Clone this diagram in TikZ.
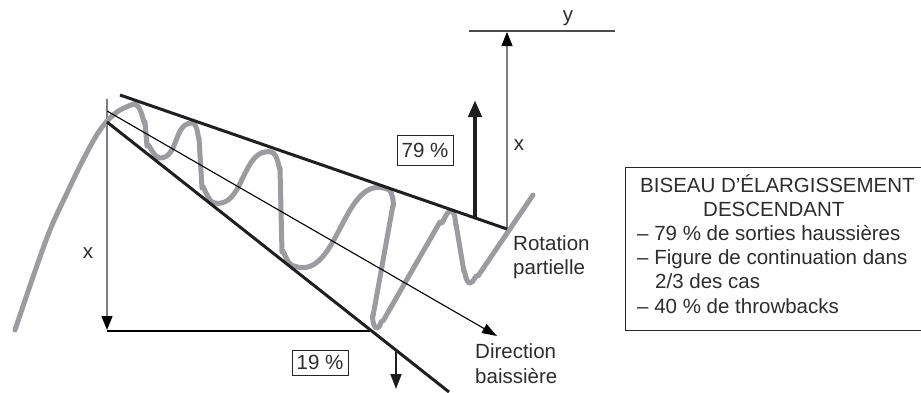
\documentclass[tikz,border=0pt]{standalone}
\usepackage{fontspec}
\setmainfont{Liberation Sans}
\usetikzlibrary{arrows.meta}
\definecolor{wavegray}{RGB}{155,155,160}
\definecolor{linegray}{RGB}{125,125,125}
\definecolor{txt}{RGB}{45,45,45}
\begin{document}
\begin{tikzpicture}[x=1pt,y=-1pt,
  font=\fontsize{20.5}{24}\selectfont,
  wave/.style={draw=wavegray, line width=5pt, line cap=round, line join=round},
  boldline/.style={draw=black!88, line width=3pt},
  thinline/.style={draw=black, line width=1.1pt},
  guide/.style={draw=linegray, line width=1.3pt},
  tipA/.style={-{Triangle[length=14pt,width=11pt,color=black]}},
  lbl/.style={text=txt, inner sep=0pt},
  pbox/.style={draw=black!85, line width=1pt, text=txt, inner sep=0pt, minimum width=56pt}]
\clip (0,0) rectangle (921,392);
\fill[white] (0,0) rectangle (921,392);

% coordinates
\coordinate (uS) at (120,95);  \coordinate (uE) at (507,229);
\coordinate (lS) at (107,122); \coordinate (lE) at (449,392);
\coordinate (mS) at (107,111); \coordinate (mE) at (497,336);
\coordinate (vT) at (107,99);  \coordinate (vB) at (107,330);
\coordinate (hS) at (107,331); \coordinate (hE) at (370,331);
\coordinate (yL) at (469,31);  \coordinate (yR) at (615,31);
\coordinate (rT) at (507,32);
\coordinate (bA) at (475,217); \coordinate (bT) at (475,100);
\coordinate (dA) at (396,350); \coordinate (dT) at (396,389);

% guides
\draw[guide,tipA] (vT) -- (vB);
\draw[thinline] (hS) -- (hE);
\draw[guide,tipA] (uE) -- (rT);
\draw[draw=black!70, line width=1.8pt] (yL) -- (yR);

% price wave
\draw[wave] plot[smooth,tension=0.6] coordinates {(15,330) (33,277) (50,230) (67,193) (83,160) (100,130) (117,112) (134,104)}
  to[out=0,in=-95] (145,122) -- (147,146) to[out=85,in=180] (160,158)
  to[out=0,in=180] (192,123)
  to[out=0,in=-95] (199,138) -- (202,188) to[out=85,in=180] (215,203)
  to[out=-10,in=170] (271,152)
  to[out=0,in=-92] (280,168) -- (282,252) to[out=88,in=180] (294,266)
  to[out=-20,in=160] (387,189)
  to[out=0,in=-80] (393,205) -- (373,316) to[out=100,in=180] (377,328)
  to[out=0,in=121] (383,321) -- (440,222)
  to[out=-59,in=180] (451,211) to[out=0,in=-100] (456,224)
  -- (464,272) to[out=80,in=180] (470,283) to[out=0,in=126] (478,276) -- (533,195);

% trend lines
\draw[boldline] (uS) -- (uE);
\draw[boldline] (lS) -- (lE);
\draw[thinline,-{Triangle[length=15pt,width=10pt]}] (mS) -- (mE);

% breakout arrows
\draw[draw=black!88, line width=4.5pt,-{Triangle[length=17pt,width=13pt]}] (bA) -- (bT);
\draw[draw=black!88, line width=1.8pt,-{Triangle[length=15pt,width=11pt]}] (dA) -- (dT);

% labels
\node[lbl,anchor=base] (ylab) at (568,21) {y};
\node[lbl,anchor=base] (xr) at (519,150) {x};
\node[lbl,anchor=base] (xl) at (88,258) {x};
\node[pbox,minimum height=30pt] (p79) at (425,150) {79 \%};
\node[pbox,minimum height=25pt] (p19) at (320,362.5) {19 \%};
\node[lbl,anchor=base west] (rot1) at (513,250) {Rotation};
\node[lbl,anchor=base west] (rot2) at (513,274) {partielle};
\node[lbl,anchor=base west] (dir1) at (475,358) {Direction};
\node[lbl,anchor=base west] (dir2) at (475,383) {baissière};

% info box
\draw[draw=black!85, line width=1pt] (625,167) rectangle (940,330);
\node[lbl,anchor=base west] (t1) at (640,192) {BISEAU D’ÉLARGISSEMENT};
\node[lbl,anchor=base west] (t2) at (703,216.2) {DESCENDANT};
\node[lbl,anchor=base west] (t3) at (637,240.4) {– 79 \% de sorties haussières};
\node[lbl,anchor=base west] (t4) at (637,264.6) {– Figure de continuation dans};
\node[lbl,anchor=base west] (t5) at (655,288.8) {2/3 des cas};
\node[lbl,anchor=base west] (t6) at (637,313) {– 40 \% de throwbacks};
\end{tikzpicture}
\end{document}
